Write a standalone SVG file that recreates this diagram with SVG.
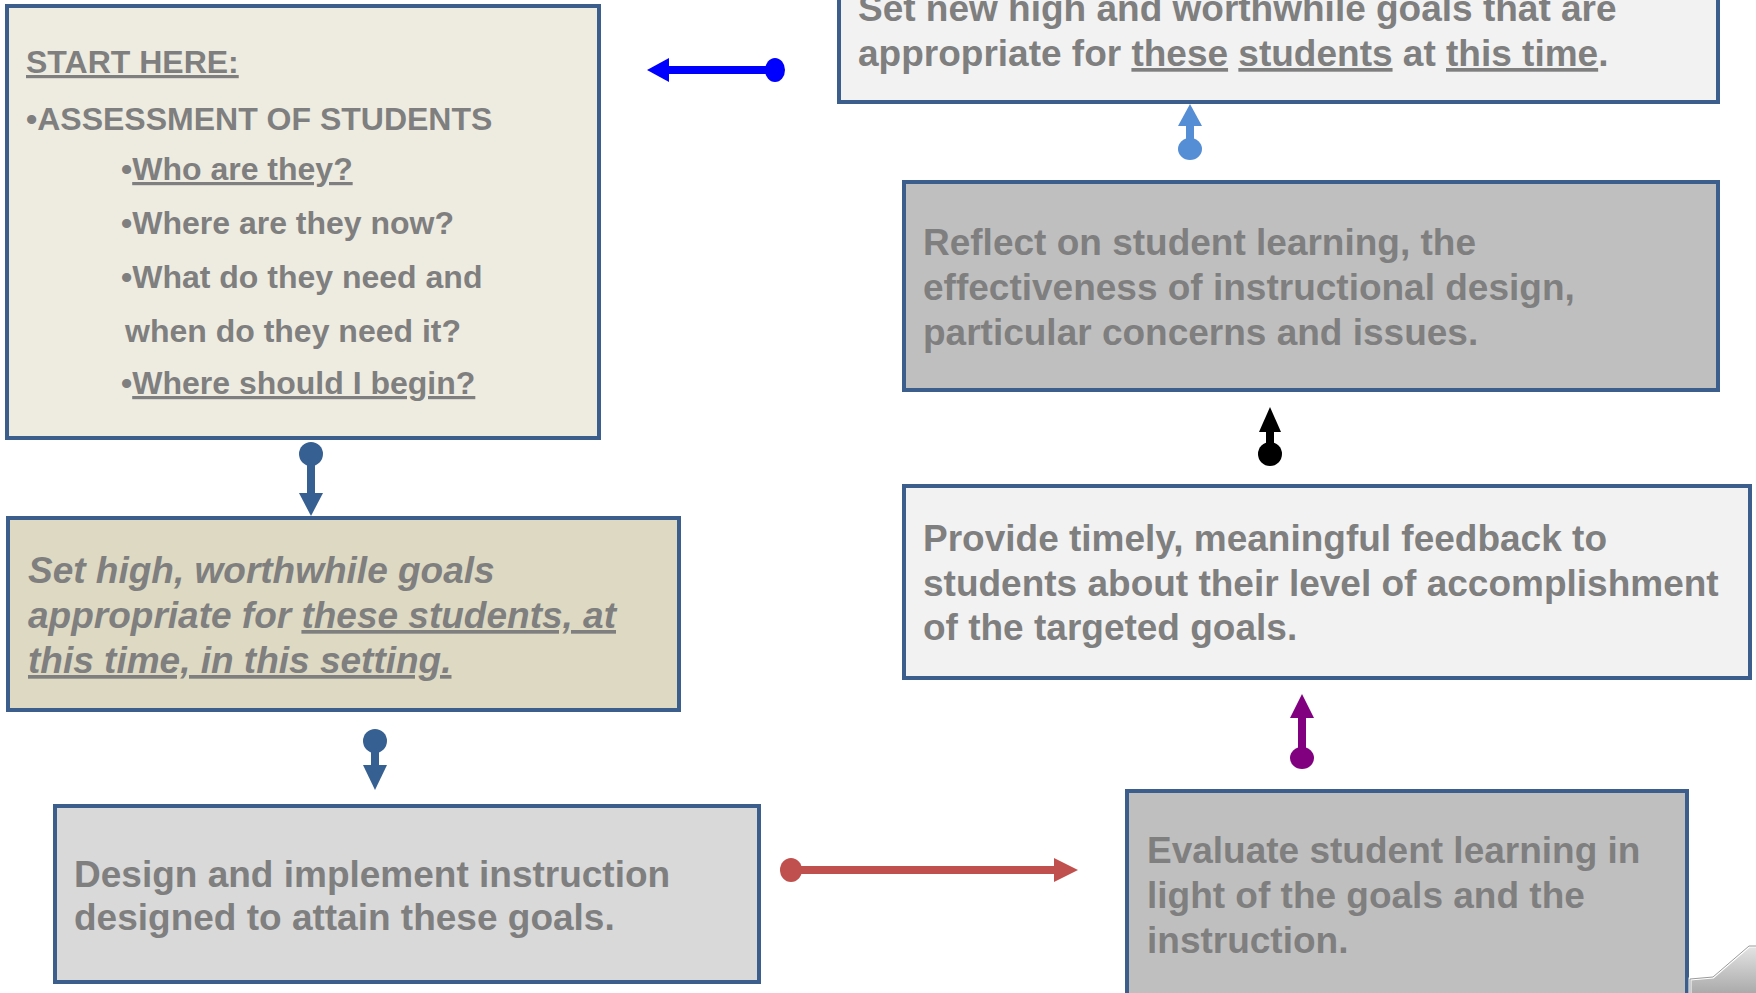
<svg xmlns="http://www.w3.org/2000/svg" width="1756" height="993" viewBox="0 0 1756 993">
<defs>
<linearGradient id="curl" x1="0" y1="0" x2="0" y2="1">
<stop offset="0" stop-color="#e4e4e4"/>
<stop offset="1" stop-color="#a8a8a8"/>
</linearGradient>
</defs>
<style>
.box{stroke:#3B5E8C;stroke-width:4}
.t{font-family:"Liberation Sans",Arial,sans-serif;font-weight:bold;fill:#7F7F7F}
.s32{font-size:32px}
.s36{font-size:37px}
.it{font-style:italic}
.u{text-decoration:underline}
</style>
<rect width="1756" height="993" fill="#ffffff"/>

<g id="connectors">
  <g id="c-blue" fill="#0000FF" stroke="none">
    <rect x="665" y="66" width="110" height="8"/>
    <polygon points="647,70 669,58 669,82"/>
    <ellipse cx="775" cy="70" rx="10" ry="12"/>
  </g>
  <g id="c-lightblue" fill="#558ED5">
    <rect x="1186" y="120" width="8" height="29"/>
    <polygon points="1190,104 1178,126 1202,126"/>
    <ellipse cx="1190" cy="149" rx="12" ry="11"/>
  </g>
  <g id="c-black" fill="#000000">
    <rect x="1266" y="424" width="8" height="28"/>
    <polygon points="1270,407 1259,432 1281,432"/>
    <ellipse cx="1270" cy="454" rx="12" ry="12"/>
  </g>
  <g id="c-purple" fill="#800080">
    <rect x="1298" y="712" width="8" height="46"/>
    <polygon points="1302,694 1290,718 1314,718"/>
    <ellipse cx="1302" cy="758" rx="12" ry="11"/>
  </g>
  <g id="c-red" fill="#C0504D">
    <rect x="791" y="866" width="268" height="8"/>
    <polygon points="1078,870 1054,858 1054,882"/>
    <ellipse cx="791" cy="870" rx="11" ry="12"/>
  </g>
  <g id="c-dark1" fill="#376092">
    <rect x="307" y="454" width="8" height="42"/>
    <polygon points="311,516 299,493 323,493"/>
    <ellipse cx="311" cy="454" rx="12" ry="12"/>
  </g>
  <g id="c-dark2" fill="#376092">
    <rect x="371" y="741" width="8" height="28"/>
    <polygon points="375,790 363,765 387,765"/>
    <ellipse cx="375" cy="741" rx="12" ry="12"/>
  </g>
</g>

<g id="node-start">
  <rect class="box" x="7" y="6" width="592" height="432" fill="#EEECE1"/>
  <text class="t s32" x="26" y="73"><tspan class="u">START HERE:</tspan></text>
  <text class="t s32" x="26" y="130">•ASSESSMENT OF STUDENTS</text>
  <text class="t s32" x="121" y="180">•<tspan class="u">Who are they?</tspan></text>
  <text class="t s32" x="121" y="234">•Where are they now?</text>
  <text class="t s32" x="121" y="288">•What do they need and</text>
  <text class="t s32" x="125" y="342">when do they need it?</text>
  <text class="t s32" x="121" y="394">•<tspan class="u">Where should I begin?</tspan></text>
</g>

<g id="node-set-goals">
  <rect class="box" x="8" y="518" width="671" height="192" fill="#DDD9C3"/>
  <text class="t s36 it" x="28" y="583">Set high, worthwhile goals</text>
  <text class="t s36 it" x="28" y="628">appropriate for <tspan class="u">these students, at</tspan></text>
  <text class="t s36 it" x="28" y="673"><tspan class="u">this time, in this setting.</tspan></text>
</g>

<g id="node-design">
  <rect class="box" x="55" y="806" width="704" height="176" fill="#D9D9D9"/>
  <text class="t s36" x="74" y="887">Design and implement instruction</text>
  <text class="t s36" x="74" y="930">designed to attain these goals.</text>
</g>

<g id="node-evaluate">
  <rect class="box" x="1127" y="791" width="560" height="220" fill="#BFBFBF"/>
  <text class="t s36" x="1147" y="863">Evaluate student learning in</text>
  <text class="t s36" x="1147" y="908">light of the goals and the</text>
  <text class="t s36" x="1147" y="953">instruction.</text>
</g>

<g id="node-feedback">
  <rect class="box" x="904" y="486" width="846" height="192" fill="#F2F2F2"/>
  <text class="t s36" x="923" y="551">Provide timely, meaningful feedback to</text>
  <text class="t s36" x="923" y="596">students about their level of accomplishment</text>
  <text class="t s36" x="923" y="640">of the targeted goals.</text>
</g>

<g id="node-reflect">
  <rect class="box" x="904" y="182" width="814" height="208" fill="#BFBFBF"/>
  <text class="t s36" x="923" y="255">Reflect on student learning, the</text>
  <text class="t s36" x="923" y="300">effectiveness of instructional design,</text>
  <text class="t s36" x="923" y="345">particular concerns and issues.</text>
</g>

<g id="node-new-goals">
  <rect class="box" x="839" y="-20" width="879" height="122" fill="#F2F2F2"/>
  <text class="t s36" x="858" y="21">Set new high and worthwhile goals that are</text>
  <text class="t s36" x="858" y="66">appropriate for <tspan class="u">these</tspan> <tspan class="u">students</tspan> at <tspan class="u">this time</tspan>.</text>
</g>

<g id="page-curl">
  <polygon points="1690,995 1690,979 1713,977 1749,946 1758,946 1758,995" fill="url(#curl)" stroke="#ffffff" stroke-width="3"/>
  <polygon points="1690,995 1690,979 1713,977 1749,946 1758,946 1758,995" fill="none" stroke="#9a9a9a" stroke-width="1"/>
</g>
</svg>
